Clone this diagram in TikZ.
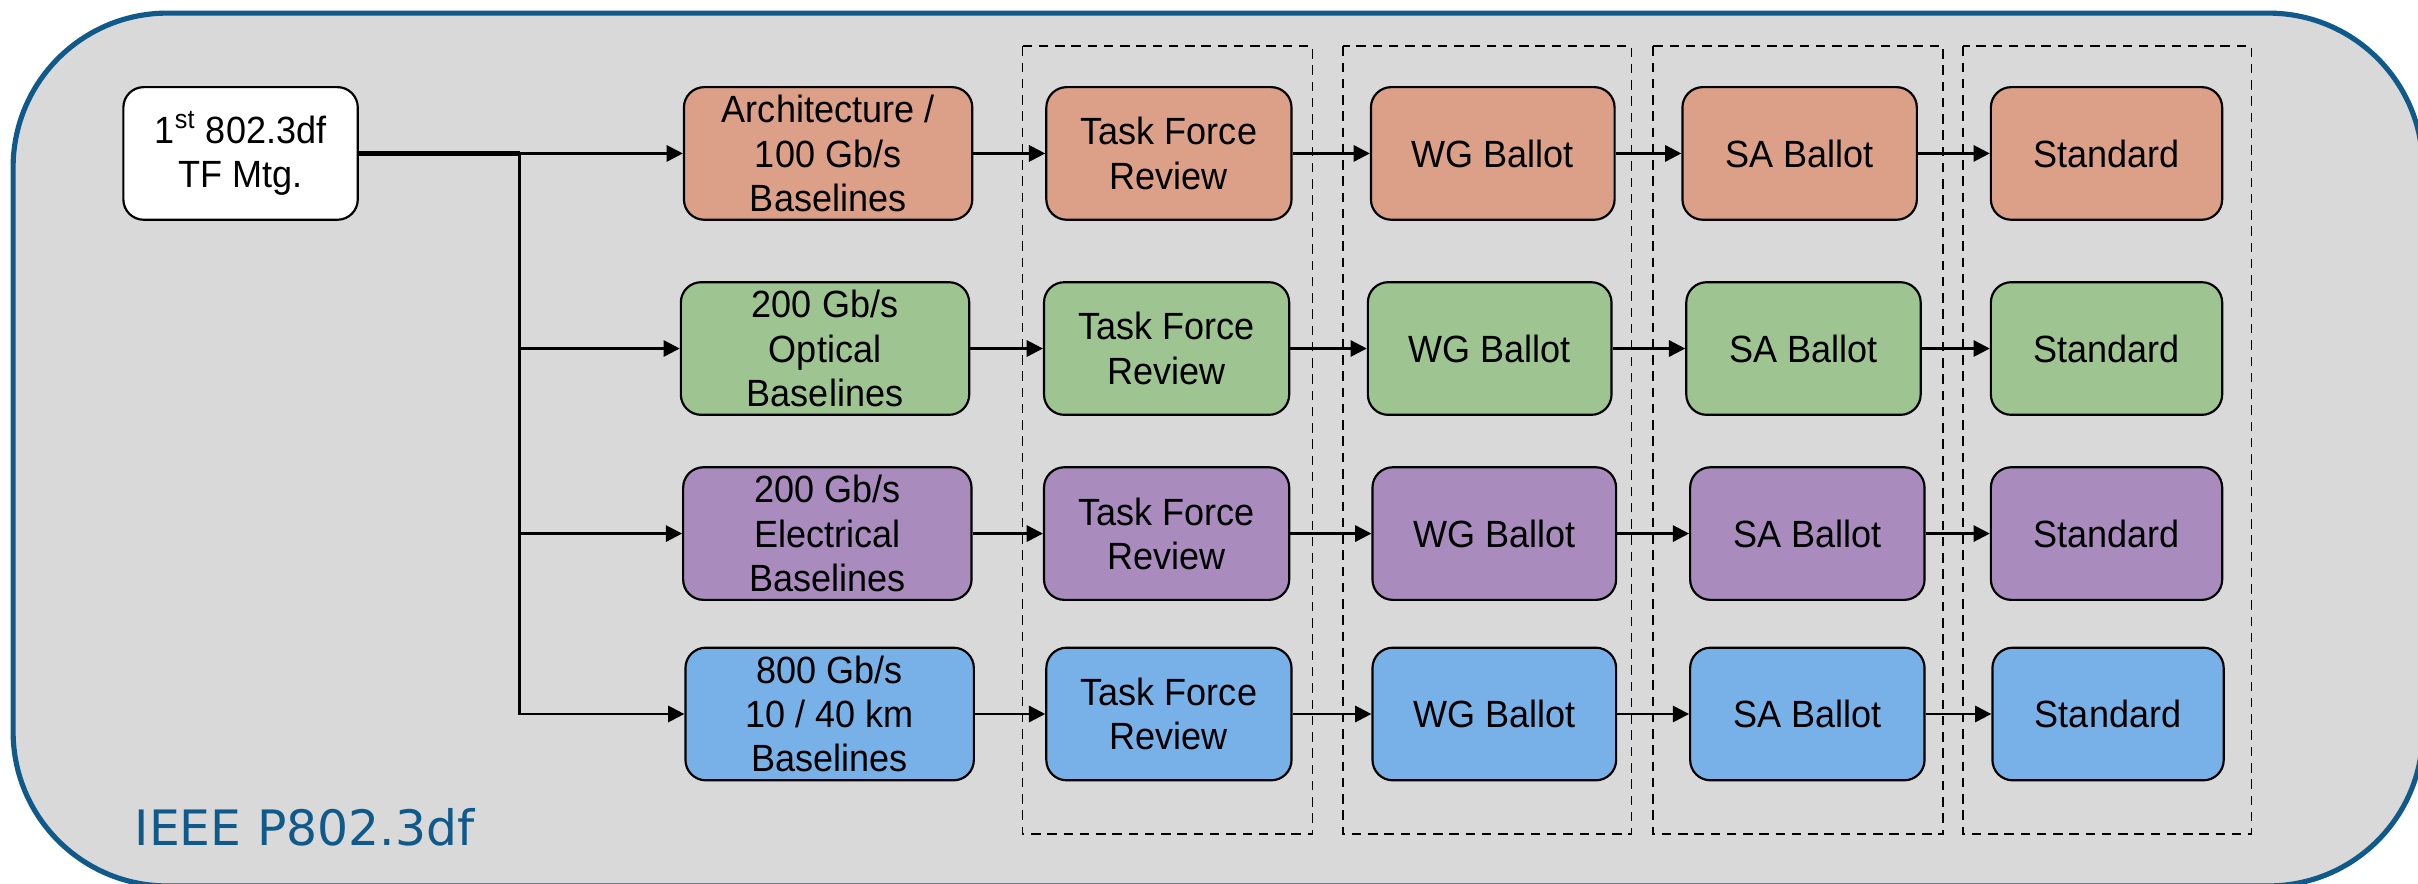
\documentclass[tikz,border=0pt]{standalone}
\usepackage{fontspec}
\setmainfont[FakeStretch=0.95]{Liberation Sans}
\newfontfamily\tagfont{DejaVu Sans}
\usetikzlibrary{arrows.meta,positioning}
\definecolor{navy}{HTML}{0F5A8A}
\definecolor{panel}{HTML}{D9D9D9}
\definecolor{orange}{HTML}{DC9F88}
\definecolor{green}{HTML}{9EC492}
\definecolor{purple}{HTML}{A98BBE}
\definecolor{blue}{HTML}{78B1E8}
\tikzset{
  box/.style={draw=black, line width=0.8pt, rounded corners=7.5pt, align=center, font=\fontsize{14}{16.3}\selectfont, inner xsep=2pt, inner ysep=1pt, minimum height=1.72cm},
  start/.style={box, fill=white, minimum width=3.04cm},
  base/.style={box, minimum width=3.74cm},
  review/.style={box, minimum width=3.18cm},
  wg/.style={box, minimum width=3.16cm},
  sa/.style={box, minimum width=3.04cm},
  std/.style={box, minimum width=3.0cm},
  arrow/.style={-{Triangle[length=6pt, width=6pt]}, line width=0.9pt},
  feed/.style={line width=1.7pt},
  stage/.style={draw=black, line width=0.6pt, dash pattern=on 3.5pt off 2.5pt},
  tag/.style={font=\tagfont\fontsize{18}{20}\selectfont, text=navy, inner sep=0pt}
}
\begin{document}
\begin{tikzpicture}
\useasboundingbox (0,0) rectangle (31.36,-11.46);
% background panel
\begin{scope}
\clip (0,0) rectangle (31.36,-11.46);
\draw[draw=navy, line width=1.9pt, fill=panel, rounded corners=2cm] (0.17,-0.17) rectangle (31.42,-11.49);
\end{scope}
\node[tag, anchor=base west] (title) at (1.74,-10.96) {IEEE P802.3df};
% process stages
\draw[stage] (13.26,-0.6) rectangle (17.02,-10.82);
\draw[stage] (17.42,-0.6) rectangle (21.16,-10.82);
\draw[stage] (21.44,-0.6) rectangle (25.2,-10.82);
\draw[stage] (25.46,-0.6) rectangle (29.2,-10.82);
\node[start] (start) at (3.12,-1.99) {1\textsuperscript{st} 802.3df\\TF Mtg.};
% architecture / 100G
\node[base, fill=orange] (arch) at (10.74,-1.99) {Architecture /\\100 Gb/s\\Baselines};
\node[review, fill=orange] (archtf) at (15.16,-1.99) {Task Force\\Review};
\node[wg, fill=orange] (archwg) at (19.36,-1.99) {WG Ballot};
\node[sa, fill=orange] (archsa) at (23.34,-1.99) {SA Ballot};
\node[std, fill=orange] (archstd) at (27.32,-1.99) {Standard};
% 200G optical
\node[base, fill=green] (opt) at (10.70,-4.52) {200 Gb/s\\Optical\\Baselines};
\node[review, fill=green] (opttf) at (15.13,-4.52) {Task Force\\Review};
\node[wg, fill=green] (optwg) at (19.32,-4.52) {WG Ballot};
\node[sa, fill=green] (optsa) at (23.39,-4.52) {SA Ballot};
\node[std, fill=green] (optstd) at (27.32,-4.52) {Standard};
% 200G electrical
\node[base, fill=purple] (elec) at (10.73,-6.92) {200 Gb/s\\Electrical\\Baselines};
\node[review, fill=purple] (electf) at (15.13,-6.92) {Task Force\\Review};
\node[wg, fill=purple] (elecwg) at (19.38,-6.92) {WG Ballot};
\node[sa, fill=purple] (elecsa) at (23.44,-6.92) {SA Ballot};
\node[std, fill=purple] (elecstd) at (27.32,-6.92) {Standard};
% 800G 10/40 km
\node[base, fill=blue] (reach) at (10.76,-9.26) {800 Gb/s\\10 / 40 km\\Baselines};
\node[review, fill=blue] (reachtf) at (15.16,-9.26) {Task Force\\Review};
\node[wg, fill=blue] (reachwg) at (19.38,-9.26) {WG Ballot};
\node[sa, fill=blue] (reachsa) at (23.44,-9.26) {SA Ballot};
\node[std, fill=blue] (reachstd) at (27.34,-9.26) {Standard};
% fan-out from the first meeting
\coordinate (split) at (6.74,-1.99);
\draw[feed] (start.east) -- (split);
\draw[arrow] (split) -- (arch.west);
\draw[arrow] (split) |- (opt.west);
\draw[arrow] (split) |- (elec.west);
\draw[arrow] (split) |- (reach.west);
% rows
\draw[arrow] (arch) -- (archtf);
\draw[arrow] (archtf) -- (archwg);
\draw[arrow] (archwg) -- (archsa);
\draw[arrow] (archsa) -- (archstd);
\draw[arrow] (opt) -- (opttf);
\draw[arrow] (opttf) -- (optwg);
\draw[arrow] (optwg) -- (optsa);
\draw[arrow] (optsa) -- (optstd);
\draw[arrow] (elec) -- (electf);
\draw[arrow] (electf) -- (elecwg);
\draw[arrow] (elecwg) -- (elecsa);
\draw[arrow] (elecsa) -- (elecstd);
\draw[arrow] (reach) -- (reachtf);
\draw[arrow] (reachtf) -- (reachwg);
\draw[arrow] (reachwg) -- (reachsa);
\draw[arrow] (reachsa) -- (reachstd);
\end{tikzpicture}
\end{document}
